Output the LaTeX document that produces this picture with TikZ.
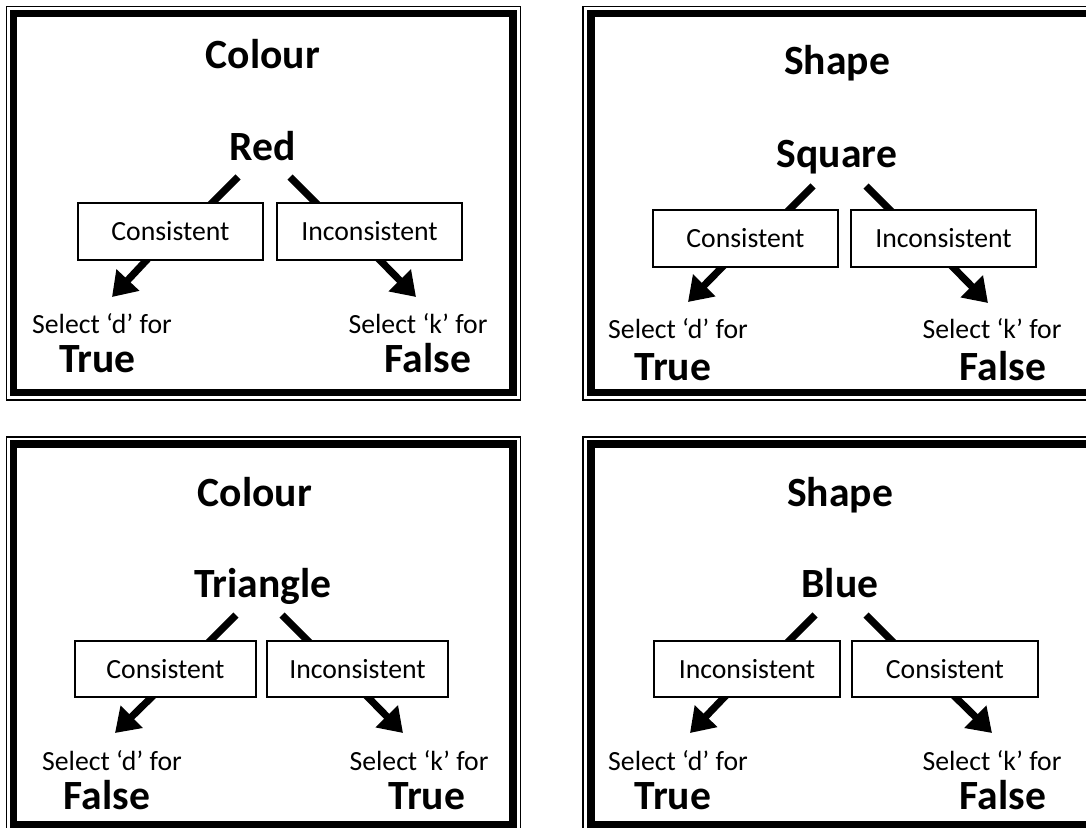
\documentclass[tikz,border=0pt]{standalone}
\usepackage{fontspec}
\setmainfont{Carlito}
\usetikzlibrary{arrows.meta}
\pgfdeclarelayer{back}
\pgfdeclarelayer{bg}
\pgfsetlayers{back,bg,main}
\tikzset{
  thinframe/.style={draw=black,line width=1.1pt},
  thickframe/.style={draw=black,line width=5.6pt},
  title/.style={anchor=base,inner sep=0pt,font=\fontsize{31.2}{37}\selectfont\bfseries},
  small/.style={anchor=base,inner sep=0pt,font=\fontsize{20.8}{24}\selectfont},
  choice/.style={draw=black,line width=1.5pt,fill=white,inner sep=0pt,
     minimum width=139pt,minimum height=42.5pt,font=\fontsize{20.8}{24}\selectfont},
  conn/.style={line width=5.4pt},
  arr/.style={line width=5.4pt,-{Triangle[length=17.5pt,width=22.5pt]}},
}
\begin{document}
\begin{tikzpicture}[x=0.75pt,y=-0.75pt]
\useasboundingbox (0,0) rectangle (1086,828);
\clip (0,0) rectangle (1086,828);
\begin{pgfonlayer}{back}
\fill[white] (0,0) rectangle (1086,828);
\end{pgfonlayer}
% frames
\draw[thinframe] (6.5,6.5) rectangle (520.5,400);
\draw[thickframe] (13.5,13.5) rectangle (513,392.5);
\draw[thinframe] (583,6.5) rectangle (1097,400);
\draw[thickframe] (591,13.5) rectangle (1090,392.5);
\draw[thinframe] (6.5,437) rectangle (520.5,832);
\draw[thickframe] (13.5,444) rectangle (513,824.5);
\draw[thinframe] (583,437) rectangle (1097,832);
\draw[thickframe] (591,444) rectangle (1090,824.5);

% ---------- panel 1
\node[title] (t1) at (263,68) {Colour};
\node[title] (w1) at (263,160) {Red};
\node[choice] (c1) at (170.5,231.5) {Consistent};
\node[choice] (i1) at (369.5,231.5) {Inconsistent};
\node[small] (sd1) at (102,333) {Select ‘d’ for};
\node[title] (ad1) at (97.5,372) {True};
\node[small] (sk1) at (418,333) {Select ‘k’ for};
\node[title] (ak1) at (428,372) {False};
\coordinate (l1a) at (238,177);
\coordinate (r1a) at (290,177);
\coordinate (l1b) at (157,249);
\coordinate (r1b) at (369,249);
\coordinate (l1t) at (112,297);
\coordinate (r1t) at (416,297);

% ---------- panel 2
\node[title] (t2) at (837,74) {Shape};
\node[title] (w2) at (837,167) {Square};
\node[choice] (c2) at (745.5,238.5) {Consistent};
\node[choice] (i2) at (943.5,238.5) {Inconsistent};
\node[small] (sd2) at (678,338) {Select ‘d’ for};
\node[title] (ad2) at (673,380) {True};
\node[small] (sk2) at (992,338) {Select ‘k’ for};
\node[title] (ak2) at (1003,380) {False};
\coordinate (l2a) at (813,186);
\coordinate (r2a) at (866,186);
\coordinate (l2b) at (733,256);
\coordinate (r2b) at (942,256);
\coordinate (l2t) at (688,302);
\coordinate (r2t) at (988,303);

% ---------- panel 3
\node[title] (t3) at (255,506) {Colour};
\node[title] (w3) at (263,597) {Triangle};
\node[choice,minimum width=136pt] (c3) at (165.5,669) {Consistent};
\node[choice,minimum width=136pt] (i3) at (357.5,669) {Inconsistent};
\node[small] (sd3) at (112,770) {Select ‘d’ for};
\node[title] (ad3) at (107,809) {False};
\node[small] (sk3) at (419,770) {Select ‘k’ for};
\node[title] (ak3) at (427,809) {True};
\coordinate (l3a) at (236,615);
\coordinate (r3a) at (282,615);
\coordinate (l3b) at (163,686);
\coordinate (r3b) at (357,686);
\coordinate (l3t) at (115,733);
\coordinate (r3t) at (403,733);

% ---------- panel 4
\node[title] (t4) at (840,506) {Shape};
\node[title] (w4) at (840,597) {Blue};
\node[choice] (c4) at (747,669) {Inconsistent};
\node[choice] (i4) at (945,669) {Consistent};
\node[small] (sd4) at (678,770) {Select ‘d’ for};
\node[title] (ad4) at (673,809) {True};
\node[small] (sk4) at (992,770) {Select ‘k’ for};
\node[title] (ak4) at (1003,809) {False};
\coordinate (l4a) at (815,615);
\coordinate (r4a) at (866,615);
\coordinate (l4b) at (735,686);
\coordinate (r4b) at (944,686);
\coordinate (l4t) at (690,733);
\coordinate (r4t) at (992,733);

\begin{pgfonlayer}{bg}
\foreach \p in {1,2,3,4}{
  \draw[conn] (l\p a) -- ++(-40,40);
  \draw[conn] (r\p a) -- ++(40,40);
  \draw[arr] (l\p b) -- (l\p t);
  \draw[arr] (r\p b) -- (r\p t);
}
\end{pgfonlayer}
\end{tikzpicture}
\end{document}
